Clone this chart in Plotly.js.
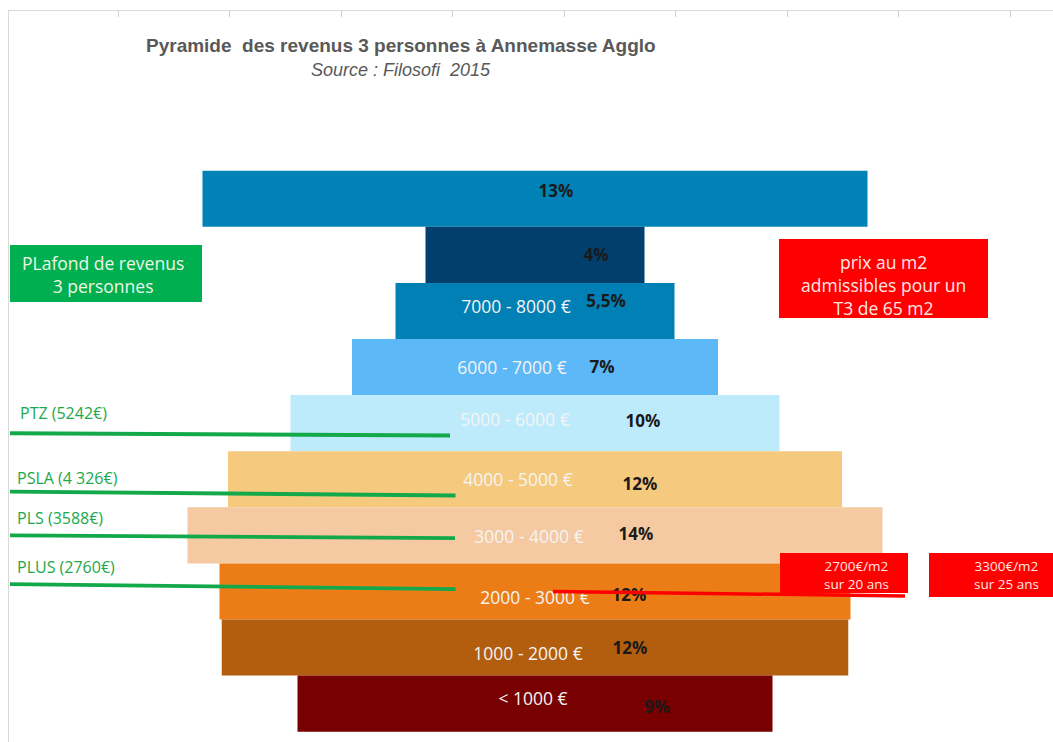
<!DOCTYPE html>
<html>
<head>
<meta charset="utf-8">
<script src="https://cdn.plot.ly/plotly-3.0.1.min.js"></script>
<style>
  html, body { margin: 0; padding: 0; background: #fff; }
  #chart { width: 1053px; height: 742px; }
</style>
</head>
<body>
<div id="chart"></div>
<script>
'use strict';

/* ---------------------------- data (top → bottom) ---------------------------- */
const rangeLabels = ['', '', '7000 - 8000 €', '6000 - 7000 €', '5000 - 6000 €',
  '4000 - 5000 €', '3000 - 4000 €', '2000 - 3000 €', '1000 - 2000 €', '< 1000 €'];
const shareLabels = ['13%', '4%', '5,5%', '7%', '10%', '12%', '14%', '12%', '12%', '9%'];
// drawn width of each bar (roughly share of households)
const barWidths = [13.3, 4.38, 5.58, 7.32, 9.78, 12.28, 13.9, 12.62, 12.53, 9.5];

// income ceilings for a 3-person household, drawn as green lines
const ceilingNames = ['PTZ (5242€)', 'PSLA (4 326€)', 'PLS (3588€)', 'PLUS (2760€)'];
const ceilingStartY = [4.82, 3.78, 3.00, 2.13];
const ceilingEndY = [4.78, 3.71, 2.95, 2.04];
const ceilingEndX = [-1.70, -1.59, -1.60, -1.59];
const ceilingStartX = -10.5;

// admissible price per m2 line (red)
const priceLineX = [0.36, 7.4];
const priceLineY = [2.0, 1.92];
const priceBoxes = ['2700€/m2<br>sur 20 ans', '3300€/m2<br>sur 25 ans'];

/* ------------------------------- styling ------------------------------------ */
const barColors = ['#0082b7', '#033f6c', '#0080b4', '#5db8f8', '#bdebfc',
  '#f6ca7e', '#f5c9a1', '#ec7c15', '#b35d0f', '#790000'];
const GREEN = '#13a84a';
const RED = '#ff0000';
const FONT = '"Open Sans", "DejaVu Sans", sans-serif';
const NARROW = '"Liberation Sans Narrow", "Liberation Sans", sans-serif';

// pixel → axis helpers for placing decorations (labels, boxes)
const PX = px => (px - 535) / 50;
const PY = py => 9.5 - (py - 170.7) / 56.1;

// label centres inside the bars, in pixels
const rangePos = [null, null, [516, 309], [512, 370], [515, 422], [518, 482],
  [529, 539], [535, 600], [528, 656], [533, 701]];
const sharePos = [[556, 193], [596, 257], [606, 303], [602, 369], [643, 423], [640, 486],
  [636, 536], [629, 597], [630, 650], [657, 709]];
const ceilingLabelPos = [[18, 413], [15, 478], [15, 518], [15, 567]];

const rowY = barWidths.map((_, i) => barWidths.length - 1 - i);

const traces = [];
traces.push({
  type: 'bar', orientation: 'h',
  y: rowY, x: barWidths, base: barWidths.map(w => -w / 2),
  width: 1,
  marker: { color: barColors, line: { width: 0 } },
  hoverinfo: 'skip',
});

const rIdx = rangeLabels.map((t, i) => i).filter(i => rangeLabels[i]);
traces.push({
  type: 'scatter', mode: 'text', cliponaxis: false, hoverinfo: 'skip',
  x: rIdx.map(i => PX(rangePos[i][0])), y: rIdx.map(i => PY(rangePos[i][1])),
  text: rIdx.map(i => rangeLabels[i]),
  textfont: { family: FONT, size: 17.5, color: '#f4f4f4' },
});
traces.push({
  type: 'scatter', mode: 'text', cliponaxis: false, hoverinfo: 'skip',
  x: sharePos.map(p => PX(p[0])), y: sharePos.map(p => PY(p[1])),
  text: shareLabels, texttemplate: '<b>%{text}</b>',
  textfont: { family: FONT, size: 17, color: '#1a1a1a' },
});

ceilingNames.forEach((name, i) => {
  traces.push({
    type: 'scatter', mode: 'lines', hoverinfo: 'skip',
    x: [ceilingStartX, ceilingEndX[i]], y: [ceilingStartY[i], ceilingEndY[i]],
    line: { color: GREEN, width: 3.8 },
  });
});

traces.push({
  type: 'scatter', mode: 'lines', hoverinfo: 'skip',
  x: priceLineX, y: priceLineY,
  line: { color: RED, width: 3.5 },
});

/* ------------------------------ decorations --------------------------------- */
const rect = (x0, y0, x1, y1, fill) => ({
  type: 'rect', layer: 'above', xref: 'x', yref: 'y',
  x0: PX(x0), x1: PX(x1), y0: PY(y0), y1: PY(y1),
  fillcolor: fill, line: { width: 0 },
});
const shapes = [
  rect(10, 245, 202, 302, '#00b050'),
  rect(779, 239, 988, 318, RED),
  rect(780, 553, 908, 593, RED),
  rect(929, 553, 1060, 597, RED),
];

const note = (px, py, text, font, extra) => Object.assign({
  xref: 'x', yref: 'y', x: PX(px), y: PY(py), text, showarrow: false,
  xanchor: 'center', yanchor: 'middle', font,
}, extra || {});

const annotations = [
  note(401, 45, '<b>Pyramide  des revenus 3 personnes à Annemasse Agglo</b>',
    { family: NARROW, size: 19, color: '#595959' }),
  note(401, 70, '<i>Source : Filosofi  2015</i>',
    { family: NARROW, size: 18, color: '#595959' }),
  note(103, 274, 'PLafond de revenus<br>3 personnes',
    { family: FONT, size: 17.5, color: '#eef6e6' }),
  note(883, 285, 'prix au m2<br>admissibles pour un<br>T3 de 65 m2',
    { family: FONT, size: 17.5, color: '#ffe6e6' }),
  note(856, 574.5, priceBoxes[0], { family: FONT, size: 13.5, color: '#ffe6e6' }),
  note(1006, 574.5, priceBoxes[1], { family: FONT, size: 13.5, color: '#ffe6e6' }),
];
ceilingNames.forEach((name, i) => {
  annotations.push(note(ceilingLabelPos[i][0], ceilingLabelPos[i][1], name,
    { family: FONT, size: 16, color: '#22a84a' }, { xanchor: 'left' }));
});

const layout = {
  width: 1053, height: 742,
  margin: { l: 9, r: 0, t: 11, b: 0, pad: 0 },
  paper_bgcolor: '#ffffff', plot_bgcolor: '#ffffff',
  showlegend: false,
  barmode: 'overlay',
  xaxis: {
    range: [PX(9), PX(1053)], side: 'top',
    showline: true, linecolor: '#d9d9d9', linewidth: 1,
    showgrid: false, zeroline: false, showticklabels: false,
    ticks: 'inside', ticklen: 6, tickcolor: '#d2d2d2', tickwidth: 1,
    tickmode: 'linear', tick0: PX(564), dtick: 111.5 / 50,
    fixedrange: true,
  },
  yaxis: {
    range: [PY(742), PY(11)],
    showline: true, linecolor: '#d9d9d9', linewidth: 1,
    showgrid: false, zeroline: false, showticklabels: false, ticks: '',
    fixedrange: true,
  },
  shapes, annotations,
};

Plotly.newPlot('chart', traces, layout, { displayModeBar: false, staticPlot: true });
</script>
</body>
</html>
